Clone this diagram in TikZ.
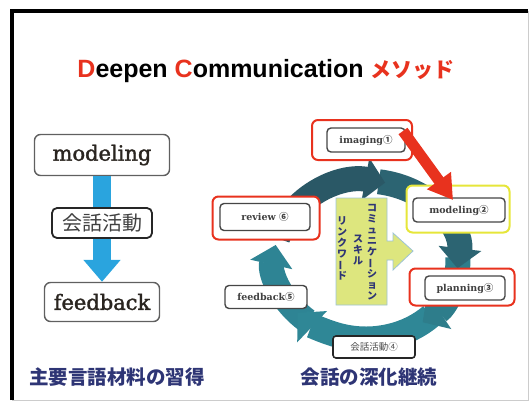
\documentclass[tikz,border=0pt]{standalone}
\usepackage{fontspec}
\setmainfont{Liberation Sans}
\newfontfamily\jp{Noto Sans CJK JP}
\newfontfamily\ser{DejaVu Serif}
\newfontfamily\serfb{DejaVu Serif}[FakeBold=1.6]
\usetikzlibrary{arrows.meta,calc}
\definecolor{tred}{HTML}{E8321E}
\definecolor{navy}{HTML}{2E3575}
\definecolor{bluearr}{HTML}{2AA4DE}
\definecolor{ringA}{HTML}{2A5866}
\definecolor{ringB}{HTML}{2C6472}
\definecolor{ringC}{HTML}{2E7D8B}
\definecolor{ringD}{HTML}{2F8796}
\definecolor{ringE}{HTML}{2E8494}
\definecolor{yel}{HTML}{DDE67E}
\definecolor{yelframe}{HTML}{E6E63A}
\definecolor{lblue}{HTML}{9CC3D6}
\definecolor{ink}{HTML}{2A2520}
\tikzset{
  bigbox/.style={draw=gray!75!black, line width=1.4pt, rounded corners=6pt, fill=white, inner sep=0pt,
    font=\serfb\fontsize{21}{21}\selectfont, text=ink},
  lbl/.style={draw=gray!55!black, line width=1.4pt, rounded corners=4pt, fill=white, inner sep=0pt,
    minimum height=24pt, font=\ser\bfseries\fontsize{9.5}{10}\selectfont, text=black!75},
  redframe/.style={draw=tred, line width=2pt, rounded corners=6pt, fill=white, inner sep=0pt},
  yelbox/.style={draw=yelframe, line width=2pt, rounded corners=6pt, fill=white, inner sep=0pt},
  vtext/.style={align=center, inner sep=0pt, font=\jp\bfseries\fontsize{10}{11}\selectfont, text=navy},
  ringseg/.style={line width=25pt, -{Triangle[width=42pt,length=20pt]}},
  bottomtxt/.style={font=\jp\bfseries\fontsize{19.5}{20}\selectfont, text=navy, inner sep=0pt}
}
\begin{document}
\begin{tikzpicture}[x=1pt,y=-1pt]
\useasboundingbox (0,0) rectangle (530,402);
% frame
\draw[gray!40, line width=1pt] (528,11) -- (528,400) -- (12,400);
\draw[black, line width=3.5pt] (12,400) -- (12,11) -- (528,11);
% title
\node[anchor=base, inner sep=0pt, font=\bfseries\fontsize{25}{25}\selectfont] (title) at (266,77)
  {\textcolor{tred}{D}eepen \textcolor{tred}{C}ommunication \textcolor{tred}{\jp\fontsize{21}{21}\selectfont メソッド}};
% left column
\node[bigbox, minimum width=135pt, minimum height=41pt] (lmod) at (102,155) {modeling};
\node[bigbox, minimum width=115pt, minimum height=39pt] (lfb) at (102,302) {feedback};
\draw[bluearr, line width=18pt, -{Triangle[width=36pt,length=22pt]}] (lmod.south) -- (lfb.north);
\node[draw=black!85, line width=1.8pt, rounded corners=5pt, fill=white, inner sep=0pt,
  minimum width=100pt, minimum height=30pt, font=\jp\fontsize{20}{20}\selectfont, text=black!75] (lkw) at (102,223) {会話活動};
\node[bottomtxt] (lbot) at (117,377) {主要言語材料の習得};
% ring
\coordinate (rc) at (366,260);
\draw[ringseg, ringE] (rc) ++(130:92 and 79) arc[start angle=130, end angle=191, x radius=92, y radius=79];
\draw[ringseg, ringD] (rc) ++(45:92 and 79) arc[start angle=45, end angle=138, x radius=92, y radius=79];
\draw[ringseg, ringC] (rc) ++(-2:92 and 79) arc[start angle=-2, end angle=52, x radius=92, y radius=79];
\draw[ringseg, ringB] (rc) ++(-82:92 and 79) arc[start angle=-82, end angle=6, x radius=92, y radius=79];
\draw[ringseg, ringA] (rc) ++(196:92 and 79) arc[start angle=196, end angle=282, x radius=92, y radius=79];
% center yellow shape
\draw[fill=yel, draw=lblue, line width=0.8pt]
  (336,198) -- (387,198) -- (387,241) -- (393,241) -- (393,233) -- (413,251) -- (393,270) -- (393,260)
  -- (387,260) -- (387,305) -- (336,305) -- cycle;
\node[vtext] (c1) at (372,252) {コ\\ミ\\ュ\\ニ\\ケ\\\rotatebox[origin=c]{90}{ー}\\シ\\ョ\\ン};
\node[vtext] (c2) at (358,250) {ス\\キ\\ル};
\node[vtext] (c3) at (342,248) {リ\\ン\\ク\\ワ\\\rotatebox[origin=c]{90}{ー}\\ド};
% labels around ring
\node[redframe, minimum width=100pt, minimum height=40pt] (imgO) at (362,140) {};
\node[lbl, minimum width=78pt] (img) at (366,140) {imaging{\jp ①}};
\node[yelbox, minimum width=103pt, minimum height=47pt] (modO) at (458,209) {};
\node[lbl, minimum width=92pt] (mod) at (459,210) {modeling{\jp ②}};
\node[redframe, minimum width=105pt, minimum height=37pt] (plnO) at (462,287) {};
\node[lbl, minimum width=80pt] (pln) at (465,288) {planning{\jp ③}};
\node[draw=black!85, line width=1.6pt, rounded corners=3pt, fill=white, inner sep=0pt,
  minimum width=82pt, minimum height=22pt, font=\jp\fontsize{9.5}{10}\selectfont, text=black!70] (kw4) at (374,347) {会話活動④};
\node[lbl, minimum width=82pt, minimum height=23pt] (fb5) at (266,297) {feedback{\jp ⑤}};
\node[redframe, minimum width=107pt, minimum height=43pt] (revO) at (266,218) {};
\node[lbl, minimum width=90pt, minimum height=27pt] (rev) at (265,217) {review {\jp ⑥}};
% red arrow
\coordinate (ra) at (403,131);
\coordinate (rb) at (453,200);
\draw[tred, line width=11pt, -{Triangle[width=28pt,length=24pt]}] (ra) -- (rb);
\node[bottomtxt] (rbot) at (369,377) {会話の深化継続};
\end{tikzpicture}
\end{document}
